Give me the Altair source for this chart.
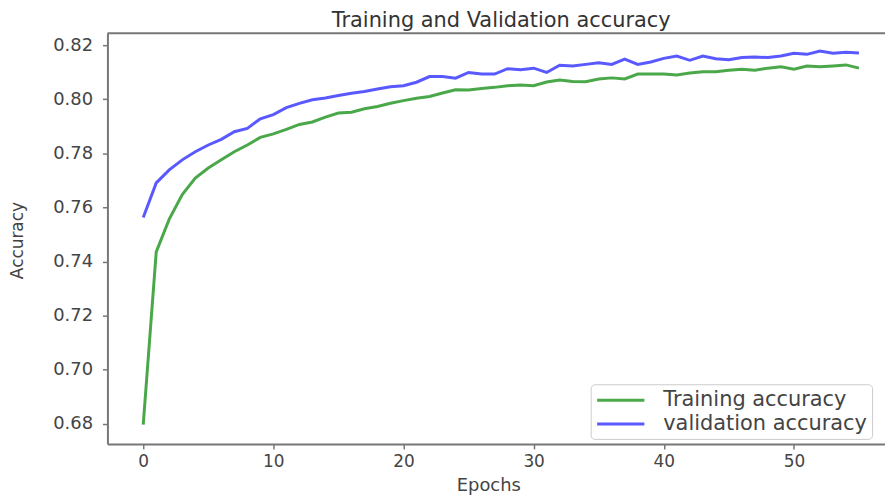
import altair as alt
import pandas as pd

epochs = list(range(56))
train_acc = [0.6797, 0.7436, 0.7557, 0.7648, 0.7709, 0.7746, 0.7776, 0.7806, 0.7831, 0.7859,
             0.7872, 0.7889, 0.7907, 0.7916, 0.7934, 0.7949, 0.7952, 0.7965, 0.7973, 0.7985,
             0.7995, 0.8004, 0.8010, 0.8023, 0.8035, 0.8034, 0.8040, 0.8044, 0.8050, 0.8053,
             0.8050, 0.8064, 0.8071, 0.8066, 0.8065, 0.8075, 0.8079, 0.8075, 0.8093, 0.8093,
             0.8093, 0.8090, 0.8097, 0.8102, 0.8102, 0.8107, 0.8111, 0.8107, 0.8115, 0.8120,
             0.8111, 0.8123, 0.8120, 0.8123, 0.8127, 0.8115]
val_acc = [0.7563, 0.7691, 0.7739, 0.7776, 0.7806, 0.7831, 0.7852, 0.7880, 0.7892, 0.7928,
           0.7943, 0.7969, 0.7985, 0.7998, 0.8005, 0.8014, 0.8022, 0.8029, 0.8038, 0.8046,
           0.8050, 0.8063, 0.8084, 0.8084, 0.8078, 0.8099, 0.8093, 0.8093, 0.8113, 0.8109,
           0.8115, 0.8099, 0.8126, 0.8123, 0.8129, 0.8135, 0.8129, 0.8148, 0.8129, 0.8138,
           0.8151, 0.8160, 0.8144, 0.8160, 0.8150, 0.8146, 0.8154, 0.8156, 0.8154, 0.8160,
           0.8170, 0.8166, 0.8178, 0.8170, 0.8174, 0.8171]
series_names = ["Training accuracy", "validation accuracy"]
series_colors = ["#4aa84a", "#5959ff"]
x_ticks = [0, 10, 20, 30, 40, 50]
y_ticks = [0.68, 0.70, 0.72, 0.74, 0.76, 0.78, 0.80, 0.82]
chart_title = "Training and Validation accuracy"

df = pd.concat([
    pd.DataFrame({"epoch": epochs, "acc": train_acc, "series": series_names[0]}),
    pd.DataFrame({"epoch": epochs, "acc": val_acc, "series": series_names[1]}),
])

W, H = 782, 413
FONT = "DejaVu Sans"
AX = "#777777"

lines = alt.Chart(df).mark_line(strokeWidth=3, clip=True).encode(
    x=alt.X("epoch:Q",
            scale=alt.Scale(domain=[-2.75, 57.0], nice=False, zero=False),
            axis=alt.Axis(values=x_ticks, title="Epochs", grid=False,
                          labelFontSize=17, labelFont=FONT, labelColor="#444",
                          titleFontSize=18, titleFont=FONT, titleColor="#444",
                          titleFontWeight="normal",
                          titleX=383, titleY=42, titleBaseline="middle",
                          domainColor=AX, domainWidth=2, tickColor=AX,
                          tickWidth=1.5, tickSize=5, labelPadding=5)),
    y=alt.Y("acc:Q",
            scale=alt.Scale(domain=[0.6726, 0.8244], nice=False, zero=False),
            axis=alt.Axis(values=y_ticks, format=".2f", title="Accuracy", grid=False,
                          labelFontSize=18, labelFont=FONT, labelColor="#444",
                          titleFontSize=17, titleFont=FONT, titleColor="#444",
                          titleFontWeight="normal", titleAngle=-90,
                          titleX=-90, titleY=208, titleAlign="center",
                          titleBaseline="middle",
                          domainColor=AX, domainWidth=2, tickColor=AX,
                          tickWidth=1.5, tickSize=5, labelPadding=10)),
    color=alt.Color("series:N",
                    scale=alt.Scale(domain=series_names, range=series_colors),
                    legend=alt.Legend(title=None, orient="none", legendX=486, legendY=353,
                                      fillColor="white", strokeColor="#cccccc",
                                      cornerRadius=4, padding=5,
                                      symbolType="M-1,0H4", symbolSize=361,
                                      symbolStrokeWidth=3, labelOffset=46,
                                      labelFontSize=21, labelFont=FONT, labelLimit=400,
                                      labelColor="#444", rowPadding=3)),
)

top_rule = alt.Chart(alt.Data(values=[{}])).mark_rule(color=AX, strokeWidth=2).encode(
    x=alt.value(0), x2=alt.value(W), y=alt.value(0)
)

title_text = alt.Chart(alt.Data(values=[{"t": chart_title}])).mark_text(
    fontSize=21, font=FONT, color="#333", align="center", baseline="top"
).encode(text="t:N", x=alt.value(W / 2 + 5), y=alt.value(-23))

chart = alt.layer(lines, top_rule, title_text).properties(
    width=W, height=H,
    padding={"left": 100, "top": 24, "right": 0, "bottom": 52},
    autosize=alt.AutoSizeParams(type="none"),
).configure_view(stroke=None)

chart.save("out.html", embed_options={"renderer": "svg", "actions": False})
